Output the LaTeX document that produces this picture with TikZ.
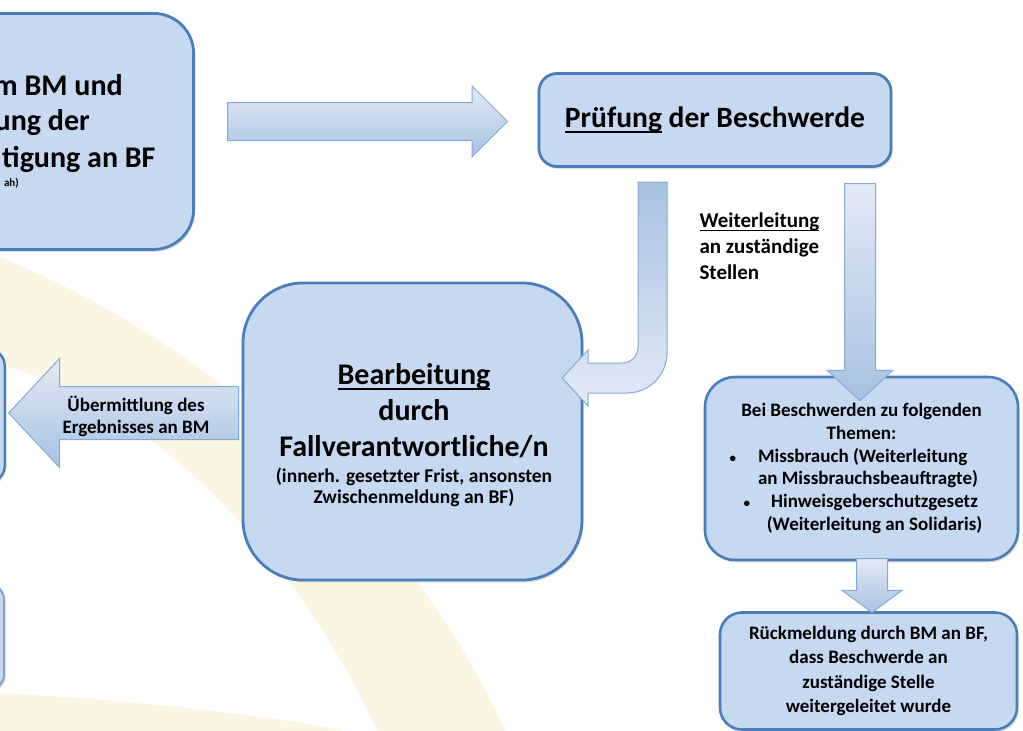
\documentclass[tikz,border=0pt]{standalone}
\usepackage{fontspec}
\setmainfont{Carlito}
\usetikzlibrary{arrows.meta, positioning, shapes.arrows, shadows, calc}
\definecolor{boxfill}{HTML}{C6D9F1}
\definecolor{boxline}{HTML}{4A7EBB}
\definecolor{arrowline}{HTML}{86A8D6}
\definecolor{arrowlight}{HTML}{E2EAF5}
\definecolor{arrowdark}{HTML}{A8C1E2}
\definecolor{logobeige}{HTML}{FBF5E4}
\newcommand{\fsize}[2]{\fontsize{#1}{#2}\selectfont}
\newcommand{\ulin}[1]{\setbox0=\hbox{#1}\rlap{\rule[-0.17em]{\wd0}{0.06em}}\box0\relax}
\newcommand{\smbullet}{{\fontsize{13}{13}\selectfont\textbullet}}

\begin{document}
\begin{tikzpicture}[x=1pt, y=-1pt, font=\bfseries,
  box/.style={draw=boxline, line width=2.8pt, fill=boxfill, rounded corners=#1,
    drop shadow={opacity=0.25, shadow xshift=1.5pt, shadow yshift=-2.5pt}},
  box/.default=20pt,
  blockarrow/.style={single arrow, draw=arrowline, line width=1pt, inner xsep=0pt,
    minimum width=0pt, single arrow tip angle=90,
    top color=arrowlight, bottom color=arrowdark}]

  \useasboundingbox (0,0) rectangle (1023,731);
  \clip (0,0) rectangle (1023,731);

  % Hintergrund
  \fill[logobeige] (0,257) .. controls (250,360) and (430,560) .. (505,731)
    -- (377,731) .. controls (300,560) and (150,400) .. (0,365) -- cycle;
  \fill[logobeige] (0,693) .. controls (120,700) and (250,712) .. (345,731)
    -- (0,731) -- cycle;

  % Kaesten
  \node[box=40pt, minimum width=300pt, minimum height=236pt, anchor=north east] (eingang) at (195,12) {};
  \node[font=\fsize{30}{35}\bfseries, inner sep=0pt, anchor=base east] (eingang1) at (123,95) {m BM und};
  \node[font=\fsize{30}{35}\bfseries, inner sep=0pt, anchor=base east] (eingang2) at (90,130) {ung der};
  \node[font=\fsize{30}{35}\bfseries, inner sep=0pt, anchor=base west] (eingang3) at (2,167) {tigung an BF};
  \node[font=\fsize{11}{13}\bfseries, inner sep=0pt, anchor=base east] (eingang4) at (19,186) {ah)};

  \node[box=18pt, line width=2.4pt, minimum width=100pt, minimum height=135pt, anchor=north east] (ergebnis) at (6,347) {};
  \node[box=14pt, line width=2pt, draw=boxline!70, minimum width=100pt, minimum height=104pt, anchor=north east] (abschluss) at (5,584) {};

  \node[box=18pt, minimum width=352pt, minimum height=93pt, font=\fsize{29.5}{35}\bfseries] (pruefung) at (715,120) {\ulin{Prüfung} der Beschwerde};

  \node[box=60pt, minimum width=339pt, minimum height=297pt] (bearbeitung) at (412.5,431.5) {};
  \node[font=\fsize{30}{36}\bfseries, align=center] (bearbTitel) at (414,411) {\ulin{Bearbeitung}\\durch\\Fallverantwortliche/n};
  \node[font=\fsize{19.5}{21}\bfseries, align=center] (bearbFrist) at (414,487) {(innerh. gesetzter Frist, ansonsten\\Zwischenmeldung an BF)};

  \node[box=30pt, line width=2.6pt, minimum width=313pt, minimum height=183pt, font=\fsize{19}{22.8}\bfseries, align=center] (themen) at (861.5,468.5)
    {Bei Beschwerden zu folgenden\\Themen:\\
     \hspace*{18pt}\makebox[225pt][l]{\makebox[0pt][r]{\smbullet\hspace{22pt}}Missbrauch (Weiterleitung}\\
     \hspace*{18pt}\makebox[225pt][l]{an Missbrauchsbeauftragte)}\\
     \hspace*{26pt}\makebox[0pt][r]{\smbullet\hspace{21pt}}Hinweisgeberschutzgesetz\\
     \hspace*{26pt}(Weiterleitung an Solidaris)};

  \node[box=22pt, line width=2.6pt, minimum width=297pt, minimum height=117pt, font=\fsize{19}{24.3}\bfseries, align=center] (rueckmeldung) at (868.5,671)
    {Rückmeldung durch BM an BF,\\dass Beschwerde an\\zuständige Stelle\\weitergeleitet wurde};

  \node[font=\fsize{21}{26}\bfseries, align=left, anchor=north west] (weiterleitung) at (696,209)
    {\ulin{Weiterleitung}\\an zuständige\\Stellen};

  % Pfeile
  \node[blockarrow, minimum height=280pt, inner ysep=18.5pt, single arrow head extend=16.5pt, anchor=tail] (pfeilRechts) at (227,121.5) {};
  \node[blockarrow, shape border rotate=180, single arrow tip angle=94, minimum height=230pt, inner ysep=26pt, single arrow head extend=28pt, anchor=tip] (pfeilLinks) at (8,413) {};
  \node[font=\fsize{19}{22}\bfseries, align=center] (uebermittlung) at (136,416) {Übermittlung des\\Ergebnisses an BM};

  \node[blockarrow, shape border rotate=270, single arrow tip angle=95, minimum height=217pt, inner xsep=15pt, inner ysep=0pt, single arrow head extend=17.5pt, anchor=tail] (pfeilWeiter) at (860,183) {};
  \node[blockarrow, shape border rotate=270, single arrow tip angle=107, minimum height=54pt, inner xsep=15pt, inner ysep=0pt, single arrow head extend=14.5pt, anchor=tail] (pfeilRueck) at (872,558) {};

  \draw[draw=arrowline, line width=1pt, top color=arrowdark, bottom color=arrowlight]
    (638,182) -- (667,182) -- (667,353) arc (0:90:40) -- (588,393) -- (588,406)
    -- (562,378) -- (588,350) -- (588,363) -- (622,363) arc (90:0:16) -- cycle;
\end{tikzpicture}
\end{document}
